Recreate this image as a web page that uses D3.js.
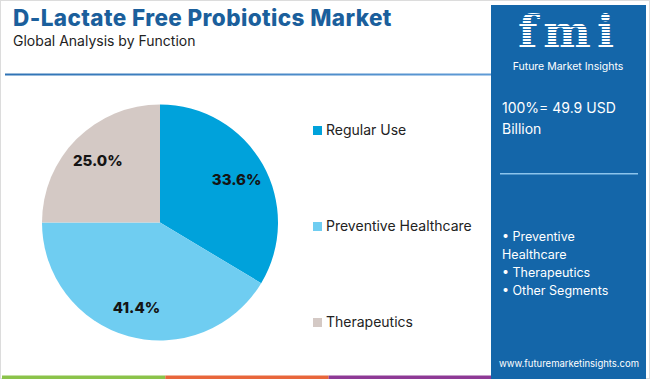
<!DOCTYPE html>
<html>
<head>
<meta charset="utf-8">
<script src="https://cdn.jsdelivr.net/npm/d3@7"></script>
<style>
  body { margin: 0; background: #fff; }
  svg { display: block; font-family: Inter, "Open Sans", sans-serif; }
</style>
</head>
<body>
<svg id="chart" width="650" height="379"></svg>
<script>
// data
var categories = ["Regular Use", "Preventive Healthcare", "Therapeutics"];
var shares = [33.6, 41.4, 25.0];
var colors = ["#00a2db", "#6fcdf1", "#d4c9c5"];
var segments = ["• Preventive", "Healthcare", "• Therapeutics", "• Other Segments"];
var stripColors = ["#8bc34a", "#e8663b", "#8e3a96"];

var width = 650, height = 379;
var svg = d3.select("#chart");

// outer frame
svg.append("rect")
  .attr("x", 0.5).attr("y", 0.5)
  .attr("width", width - 1).attr("height", height - 1)
  .attr("fill", "#fff").attr("stroke", "#dcdcdc");

// title block
svg.append("text")
  .attr("x", 13).attr("y", 26)
  .attr("font-size", "22.5px").attr("font-weight", 800)
  .attr("letter-spacing", "0.4px")
  .attr("fill", "#1b5f9c")
  .text("D-Lactate Free Probiotics Market");

svg.append("text")
  .attr("x", 13).attr("y", 46)
  .attr("font-size", "14px")
  .attr("fill", "#222")
  .text("Global Analysis by Function");

var grad = svg.append("defs").append("linearGradient").attr("id", "hline");
grad.append("stop").attr("offset", "0%").attr("stop-color", "#2f73b5");
grad.append("stop").attr("offset", "100%").attr("stop-color", "#5f9bd6");

svg.append("rect")
  .attr("x", 5).attr("y", 73.5)
  .attr("width", 487).attr("height", 2)
  .attr("fill", "url(#hline)");

// bottom strip
var stripX = d3.scaleBand().domain(d3.range(stripColors.length)).range([2, 492]);
svg.selectAll(".strip")
  .data(stripColors)
  .enter().append("rect")
  .attr("class", "strip")
  .attr("x", function(d, i) { return stripX(i); })
  .attr("y", 375.5)
  .attr("width", stripX.bandwidth())
  .attr("height", 3.5)
  .attr("fill", function(d) { return d; });

// pie
var cx = 160, cy = 222.5, r = 118;
var pie = d3.pie().sort(null).value(function(d) { return d; });
var arc = d3.arc().innerRadius(0).outerRadius(r);
var labelArc = d3.arc().innerRadius(88).outerRadius(88);

var g = svg.append("g").attr("transform", "translate(" + cx + "," + cy + ")");
var arcs = pie(shares);

g.selectAll("path")
  .data(arcs)
  .enter().append("path")
  .attr("d", arc)
  .attr("fill", function(d, i) { return colors[i]; });

g.selectAll(".lbl")
  .data(arcs)
  .enter().append("text")
  .attr("class", "lbl")
  .attr("transform", function(d) { return "translate(" + labelArc.centroid(d) + ")"; })
  .attr("text-anchor", "middle")
  .attr("dy", "0.36em")
  .attr("font-size", "15px").attr("font-weight", 800)
  .attr("fill", "#141414")
  .text(function(d) { return d.data.toFixed(1) + "%"; });

// legend
var legY = d3.scalePoint().domain(categories).range([130, 322]);
var leg = svg.selectAll(".leg")
  .data(categories)
  .enter().append("g")
  .attr("class", "leg")
  .attr("transform", function(d) { return "translate(313," + legY(d) + ")"; });

leg.append("rect")
  .attr("x", 0).attr("y", -4)
  .attr("width", 9).attr("height", 9)
  .attr("fill", function(d, i) { return colors[i]; });

leg.append("text")
  .attr("x", 13).attr("y", 0)
  .attr("dy", "0.36em")
  .attr("font-size", "14px")
  .attr("fill", "#222")
  .text(function(d) { return d; });

// right panel
var panel = svg.append("g");
panel.append("rect")
  .attr("x", 491).attr("y", 5)
  .attr("width", 155).attr("height", 374)
  .attr("fill", "#1466a9");

// logo
var logo = panel.append("g");
logo.append("text")
  .attr("x", 569).attr("y", 47)
  .attr("text-anchor", "middle")
  .attr("font-family", "DejaVu Serif, serif")
  .attr("font-size", "45px").attr("font-weight", 700)
  .attr("letter-spacing", "6px")
  .attr("fill", "#fff")
  .text("fmi");
logo.selectAll(".stripe")
  .data(d3.range(12))
  .enter().append("rect")
  .attr("class", "stripe")
  .attr("x", 505).attr("y", function(d) { return 14 + d * 3; })
  .attr("width", 130).attr("height", 1)
  .attr("fill", "#1466a9");
logo.append("text")
  .attr("x", 568).attr("y", 70)
  .attr("text-anchor", "middle")
  .attr("font-size", "10.5px")
  .attr("fill", "#fff")
  .text("Future Market Insights");

panel.append("text")
  .attr("x", 502).attr("y", 113)
  .attr("font-size", "14px").attr("fill", "#fff")
  .text("100%= 49.9 USD");
panel.append("text")
  .attr("x", 502).attr("y", 134)
  .attr("font-size", "14px").attr("fill", "#fff")
  .text("Billion");

panel.append("rect")
  .attr("x", 500).attr("y", 173)
  .attr("width", 138).attr("height", 1.5)
  .attr("fill", "#8cc4ec");

panel.selectAll(".seg")
  .data(segments)
  .enter().append("text")
  .attr("class", "seg")
  .attr("x", 502)
  .attr("y", function(d, i) { return 241 + i * 18; })
  .attr("font-size", "12.5px").attr("fill", "#fff")
  .text(function(d) { return d; });

panel.append("text")
  .attr("x", 569).attr("y", 367)
  .attr("text-anchor", "middle")
  .attr("font-size", "9.5px").attr("fill", "#fff")
  .text("www.futuremarketinsights.com");
</script>
</body>
</html>
